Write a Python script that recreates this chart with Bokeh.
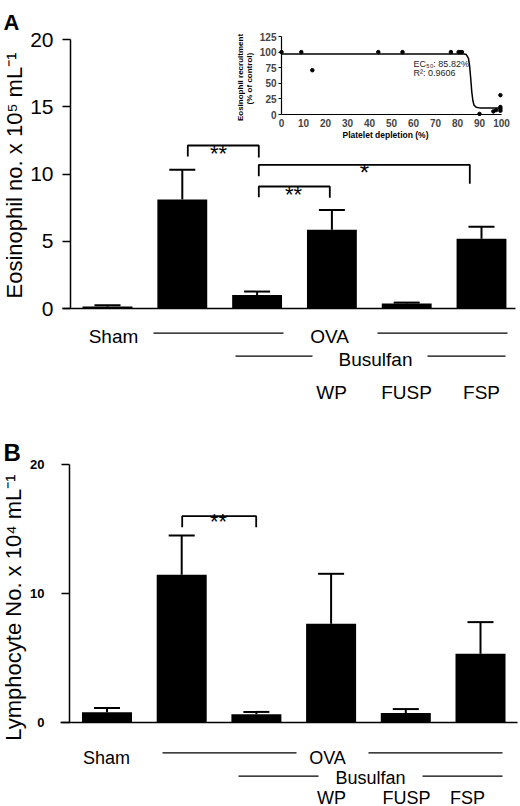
import math
from bokeh.plotting import figure
from bokeh.models import Range1d, LinearAxis, FixedTicker, Whisker, TeeHead, ColumnDataSource
from bokeh.layouts import column
from bokeh.core.properties import value
from bokeh.embed import file_html
from bokeh.resources import INLINE

# ---------------- data ----------------
groups = ["Sham", "OVA", "OVA+Busulfan", "OVA+Busulfan+WP", "OVA+Busulfan+FUSP", "OVA+Busulfan+FSP"]
group_idx = [0, 1, 2, 3, 4, 5]
eos_mean = [0.15, 8.11, 1.00, 5.86, 0.38, 5.19]
eos_sem = [0.10, 2.21, 0.26, 1.48, 0.06, 0.89]
lym_mean = [0.83, 11.47, 0.67, 7.67, 0.76, 5.35]
lym_sem = [0.33, 3.03, 0.18, 3.87, 0.31, 2.45]
eos_ticks = [0, 5, 10, 15, 20]
lym_ticks = [0, 10, 20]

inset_depletion = [0, 9, 14, 44, 55, 77, 80.5, 81.2, 82, 90, 96.3, 97.5, 99.5, 99.5, 99.5, 99.5]
inset_recruit = [100, 100, 71, 100, 100, 100, 100, 100, 100, 1, 5, 7, 31, 12, 9, 6]
fit_depletion = [0, 83, 84, 85, 85.5, 86, 86.5, 87, 87.5, 88.5, 90, 100]
fit_recruit = [97, 97, 96, 90, 78, 58, 36, 22, 15, 11.5, 10.6, 10.6]
inset_x_ticks = [0, 10, 20, 30, 40, 50, 60, 70, 80, 90, 100]
inset_y_ticks = [0, 25, 50, 75, 100, 125]

FONT = "Liberation Sans"
W = 520


def linmap(p0, v0, p1, v1):
    s = (p1 - p0) / (v1 - v0)
    return lambda page: v0 + (page - p0) / s


def rng(f, a, b):
    lo, hi = sorted((f(a), f(b)))
    return Range1d(start=lo, end=hi)


def base_fig(h, xr, yr, **kw):
    p = figure(width=W, height=h, x_range=xr, y_range=yr, x_axis_type=None, y_axis_type=None,
               output_backend="svg", toolbar_location=None, min_border=0, **kw)
    p.outline_line_color = None
    p.background_fill_color = "white"
    p.border_fill_color = "white"
    return p


def txt(p, x, y, s, size, align="center", baseline="middle", angle=0, style="normal",
        color="black", xr="default", yr="default"):
    p.text(x=[x], y=[y], text=[s], text_font=value(FONT), text_font_size=f"{size}px",
           text_color=color, text_align=align, text_baseline=baseline, angle=angle,
           text_font_style=style, x_range_name=xr, y_range_name=yr)


def bars(p, means, sems, width):
    src = ColumnDataSource(dict(x=group_idx, top=means, upper=[m + s for m, s in zip(means, sems)]))
    p.vbar(x="x", top="top", bottom=0, width=width, source=src, fill_color="black", line_color=None)
    p.add_layout(Whisker(source=src, base="x", lower="top", upper="upper", dimension="height",
                         line_width=2, line_color="black",
                         upper_head=TeeHead(size=26, line_width=2, line_color="black"),
                         lower_head=None))


def brackets(p, fx, fy, specs, lw=1.8):
    xs, ys = [], []
    for x0, x1, yb, l0, l1 in specs:
        xs.append([fx(x0), fx(x0), fx(x1), fx(x1)])
        ys.append([fy(l0), fy(yb), fy(yb), fy(l1)])
    p.multi_line(xs=xs, ys=ys, line_color="black", line_width=lw)


def yaxis(p, fx, loc_px, ticks, size, style, tick_out, standoff, top):
    ax_ = LinearAxis(fixed_location=fx(loc_px), bounds=(0, top), ticker=FixedTicker(ticks=ticks),
                     major_tick_out=tick_out, major_tick_in=0, minor_tick_out=0, minor_tick_in=0,
                     major_label_standoff=standoff, major_label_text_font=FONT,
                     major_label_text_font_size=f"{size}px", major_label_text_font_style=style,
                     axis_line_width=1.5, major_tick_line_width=1.5, axis_line_color="black",
                     major_label_text_color="black")
    p.add_layout(ax_, "left")


def xaxis(p, fx, x0_px, x1_px):
    ax_ = LinearAxis(fixed_location=0, bounds=(fx(x0_px), fx(x1_px)), ticker=FixedTicker(ticks=[]),
                     major_tick_out=0, major_tick_in=0, minor_tick_out=0, minor_tick_in=0,
                     major_label_text_font_size="0px", axis_line_width=1.5, axis_line_color="black")
    p.add_layout(ax_, "below")


# ---------------- panel A ----------------
A_TOP, HA = 0, 404
ax = linmap(107, 0, 481, 5)
ay = linmap(308, 0, 39.3, 20)
ix = linmap(281, 0, 501, 100)
iy = linmap(114, 0, 36, 125)

pA = base_fig(HA, rng(ax, 0, W), rng(ay, A_TOP, A_TOP + HA),
              extra_x_ranges={"ix": rng(ix, 0, W)},
              extra_y_ranges={"iy": rng(iy, A_TOP, A_TOP + HA)})

bars(pA, eos_mean, eos_sem, 50 / 75)
yaxis(pA, ax, 70, eos_ticks, 21, "normal", 8, 9, 20)
xaxis(pA, ax, 62, 515)

brackets(pA, ax, ay, [
    (187.3, 258.3, 145, 156, 157),
    (258.3, 469.3, 164.3, 175.7, 183.3),
    (258.3, 329.3, 186, 196.7, 197.3),
])
txt(pA, ax(218), ay(152.8), "**", 22, baseline="alphabetic")
txt(pA, ax(364), ay(172), "*", 24, baseline="alphabetic")
txt(pA, ax(293), ay(193.8), "**", 22, baseline="alphabetic")

# y label and panel letter
txt(pA, ax(14), ay(175), "Eosinophil no. x 10\u2075 mL\u207b\u00b9", 22, angle=math.pi / 2)
txt(pA, ax(3), ay(22), "A", 22, align="left", baseline="alphabetic", style="bold")

# group labels
pA.segment(x0=[ax(153), ax(377), ax(235), ax(427)], y0=[ay(332.7), ay(332.7), ay(355.7), ay(355.7)],
           x1=[ax(283), ax(507), ax(312), ax(505)], y1=[ay(332.7), ay(332.7), ay(355.7), ay(355.7)],
           line_color="black", line_width=1.3)
txt(pA, ax(113), ay(336), "Sham", 19)
txt(pA, ax(329), ay(336), "OVA", 19)
txt(pA, ax(375), ay(359), "Busulfan", 19)
txt(pA, ax(331), ay(392), "WP", 19)
txt(pA, ax(406), ay(392), "FUSP", 19)
txt(pA, ax(481), ay(392), "FSP", 19)

# inset
pA.line(fit_depletion, fit_recruit, x_range_name="ix", y_range_name="iy", line_color="black", line_width=1.5)
pA.scatter(inset_depletion, inset_recruit, x_range_name="ix", y_range_name="iy", size=3.5,
           fill_color="black", line_color="black")
iyax = LinearAxis(x_range_name="ix", y_range_name="iy", fixed_location=0, bounds=(0, 125),
                  ticker=FixedTicker(ticks=inset_y_ticks), major_tick_out=3, major_tick_in=0,
                  minor_tick_out=0, minor_tick_in=0, major_label_standoff=2,
                  major_label_text_font=FONT, major_label_text_font_size="10px",
                  major_label_text_font_style="bold", axis_line_width=1.2, major_tick_line_width=1.2)
pA.add_layout(iyax, "left")
ixax = LinearAxis(x_range_name="ix", y_range_name="iy", fixed_location=0, bounds=(0, 100),
                  ticker=FixedTicker(ticks=inset_x_ticks), major_tick_out=0, major_tick_in=0,
                  minor_tick_out=0, minor_tick_in=0, major_label_standoff=4,
                  major_label_text_font=FONT, major_label_text_font_size="10px",
                  major_label_text_font_style="bold", axis_line_width=1.2)
pA.add_layout(ixax, "below")
txt(pA, ix(240), iy(77), "Eosinophil recruitment", 8, angle=math.pi / 2, style="bold", xr="ix", yr="iy")
txt(pA, ix(249), iy(77), "(% of  control)", 8, angle=math.pi / 2, style="bold", xr="ix", yr="iy")
txt(pA, ix(385), iy(134), "Platelet depletion (%)", 8.5, style="bold", xr="ix", yr="iy")
txt(pA, ix(413), iy(63), "EC\u2085\u2080: 85.82%", 9, align="left", color="#222222", xr="ix", yr="iy")
txt(pA, ix(413), iy(72), "R\u00b2: 0.9606", 9, align="left", color="#222222", xr="ix", yr="iy")

# ---------------- panel B ----------------
B_TOP, HB = 404, 402
bx = linmap(106.5, 0, 480, 5)
by = linmap(722.4, 0, 464, 20)
pB = base_fig(HB, rng(bx, 0, W), rng(by, B_TOP, B_TOP + HB))

bars(pB, lym_mean, lym_sem, 50 / 74.7)
yaxis(pB, bx, 69, lym_ticks, 13, "bold", 8, 17, 20)
xaxis(pB, bx, 60, 517)

brackets(pB, bx, by, [(181.7, 255.7, 515.7, 526.7, 526.7)])
txt(pB, bx(218), by(521), "**", 22, baseline="alphabetic")

txt(pB, bx(13), by(607), "Lymphocyte No. x 10\u2074 mL\u207b\u00b9", 22, angle=math.pi / 2)
txt(pB, bx(3), by(452), "B", 24, align="left", baseline="alphabetic", style="bold")

pB.segment(x0=[bx(162), bx(368), bx(238), bx(422)], y0=[by(752.3), by(752.3), by(775.7), by(775.7)],
           x1=[bx(296), bx(502), bx(318), bx(502)], y1=[by(752.3), by(752.3), by(775.7), by(775.7)],
           line_color="black", line_width=1.3)
txt(pB, bx(106), by(757), "Sham", 18)
txt(pB, bx(327), by(757), "OVA", 18)
txt(pB, bx(370), by(777.7), "Busulfan", 18)
txt(pB, bx(331), by(797), "WP", 18)
txt(pB, bx(406), by(797), "FUSP", 18)
txt(pB, bx(467), by(797), "FSP", 18)

layout = column(pA, pB, spacing=0)
open("out.html", "w").write(file_html(layout, INLINE))
